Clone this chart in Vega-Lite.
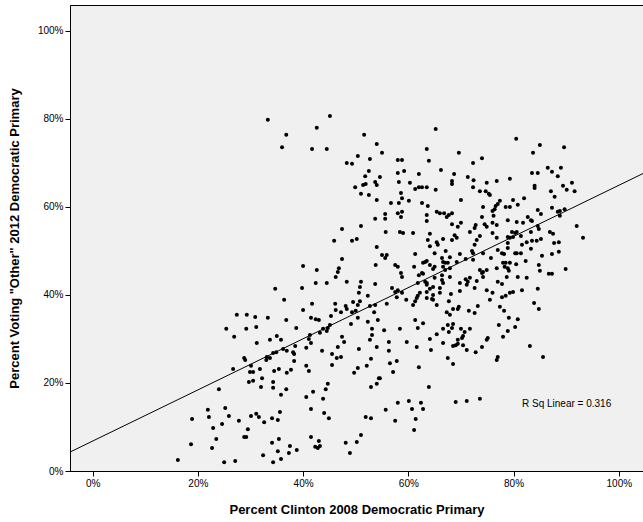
{
  "$schema": "https://vega.github.io/schema/vega-lite/v6.json",
  "width": 573,
  "height": 466,
  "autosize": "none",
  "padding": {"left": 70, "top": 5, "right": 0, "bottom": 51},
  "background": "#ffffff",
  "config": {
    "view": {"fill": "#f0f0f0", "stroke": "#000000", "strokeWidth": 1},
    "font": "Liberation Sans",
    "axis": {"grid": false, "domainColor": "#000000", "tickColor": "#000000", "labelColor": "#000000", "titleColor": "#000000", "labelFontSize": 10, "titleFontSize": 13, "titleFontWeight": "bold", "labelFont": "Liberation Sans", "titleFont": "Liberation Sans", "tickSize": 5}
  },
  "datasets": {
    "points": [
      {"clinton":33.3,"other":79.8},{"clinton":45.1,"other":80.7},{"clinton":42.6,"other":78.0},{"clinton":36.8,"other":76.4},{"clinton":51.6,"other":76.4},{"clinton":36.0,"other":73.6},{"clinton":41.7,"other":73.2},{"clinton":44.5,"other":73.2},{"clinton":54.0,"other":74.3},{"clinton":50.4,"other":71.6},{"clinton":52.7,"other":70.9},{"clinton":48.3,"other":70.0},{"clinton":49.3,"other":69.8},{"clinton":52.5,"other":68.2},{"clinton":51.8,"other":67.0},{"clinton":54.6,"other":66.8},{"clinton":49.9,"other":64.5},{"clinton":51.4,"other":65.0},{"clinton":51.9,"other":65.2},{"clinton":53.7,"other":65.7},{"clinton":54.0,"other":65.0},{"clinton":51.0,"other":63.0},{"clinton":52.5,"other":62.7},{"clinton":54.0,"other":61.6},{"clinton":53.7,"other":57.3},{"clinton":51.0,"other":55.7},{"clinton":47.4,"other":55.0},
      {"clinton":65.2,"other":77.7},{"clinton":55.0,"other":72.3},{"clinton":63.5,"other":73.2},{"clinton":69.6,"other":72.3},{"clinton":63.9,"other":70.5},{"clinton":58.0,"other":70.7},{"clinton":58.8,"other":70.7},{"clinton":74.0,"other":71.1},{"clinton":72.3,"other":70.0},{"clinton":66.2,"other":68.4},{"clinton":59.2,"other":68.2},{"clinton":58.0,"other":67.7},{"clinton":62.0,"other":67.5},{"clinton":68.7,"other":67.5},{"clinton":71.3,"other":66.8},{"clinton":72.4,"other":66.1},{"clinton":68.3,"other":65.9},{"clinton":68.3,"other":65.2},{"clinton":74.9,"other":65.5},{"clinton":58.2,"other":65.7},{"clinton":60.3,"other":65.5},{"clinton":61.3,"other":64.1},{"clinton":62.0,"other":64.5},{"clinton":62.6,"other":64.5},{"clinton":63.5,"other":64.5},{"clinton":65.2,"other":63.9},{"clinton":72.3,"other":64.5},{"clinton":73.6,"other":63.6},{"clinton":74.7,"other":63.6},{"clinton":75.3,"other":63.0},{"clinton":58.6,"other":63.2},{"clinton":58.8,"other":62.0},{"clinton":70.0,"other":61.6},{"clinton":56.7,"other":60.9},{"clinton":58.2,"other":60.9},{"clinton":60.1,"other":61.4},{"clinton":62.6,"other":60.9},{"clinton":63.7,"other":60.2},{"clinton":74.2,"other":60.0},{"clinton":55.6,"other":58.4},{"clinton":58.0,"other":58.6},{"clinton":58.8,"other":58.9},{"clinton":65.4,"other":58.9},{"clinton":66.0,"other":58.6},{"clinton":66.8,"other":58.6},{"clinton":67.3,"other":57.7},{"clinton":67.7,"other":58.2},{"clinton":68.3,"other":58.6},{"clinton":63.5,"other":58.2},{"clinton":58.6,"other":57.7},{"clinton":55.6,"other":57.3},{"clinton":63.5,"other":56.8},{"clinton":68.3,"other":56.1},{"clinton":70.0,"other":56.4},{"clinton":69.4,"other":55.5},{"clinton":72.8,"other":55.9},{"clinton":72.6,"other":55.2},{"clinton":74.0,"other":57.7},{"clinton":74.5,"other":56.1},{"clinton":74.9,"other":55.5},
      {"clinton":80.5,"other":75.5},{"clinton":85.0,"other":74.1},{"clinton":89.6,"other":73.6},{"clinton":83.7,"other":72.3},{"clinton":86.5,"other":68.9},{"clinton":87.3,"other":68.0},{"clinton":89.0,"other":68.9},{"clinton":83.5,"other":67.7},{"clinton":84.6,"other":67.7},{"clinton":88.4,"other":67.0},{"clinton":79.3,"other":66.4},{"clinton":76.8,"other":65.9},{"clinton":84.0,"other":64.8},{"clinton":84.0,"other":64.3},{"clinton":89.4,"other":64.8},{"clinton":90.1,"other":63.9},{"clinton":91.1,"other":65.5},{"clinton":91.6,"other":63.6},{"clinton":87.1,"other":63.6},{"clinton":87.8,"other":62.3},{"clinton":75.5,"other":62.7},{"clinton":82.0,"other":62.0},{"clinton":79.9,"other":61.6},{"clinton":77.4,"other":61.4},{"clinton":77.0,"other":60.7},{"clinton":76.6,"other":60.2},{"clinton":76.4,"other":59.5},{"clinton":80.8,"other":60.5},{"clinton":78.5,"other":60.0},{"clinton":79.3,"other":60.0},{"clinton":76.0,"other":59.1},{"clinton":76.2,"other":58.0},{"clinton":84.6,"other":59.3},{"clinton":85.2,"other":58.4},{"clinton":87.3,"other":59.8},{"clinton":88.4,"other":58.9},{"clinton":88.8,"other":59.1},{"clinton":89.7,"other":59.5},{"clinton":88.8,"other":58.0},{"clinton":78.9,"other":57.0},{"clinton":80.6,"other":56.6},{"clinton":81.8,"other":56.4},{"clinton":82.7,"other":57.7},{"clinton":83.3,"other":57.0},{"clinton":83.5,"other":56.8},{"clinton":76.0,"other":56.4},{"clinton":76.8,"other":55.9},{"clinton":84.6,"other":55.7},{"clinton":84.8,"other":55.0},{"clinton":92.0,"other":55.7},
      {"clinton":27.4,"other":35.5},{"clinton":29.3,"other":35.5},{"clinton":30.9,"other":35.0},{"clinton":33.3,"other":34.8},{"clinton":25.4,"other":32.3},{"clinton":29.2,"other":32.3},{"clinton":31.1,"other":32.7},{"clinton":26.9,"other":30.5},{"clinton":31.2,"other":29.1},{"clinton":33.7,"other":29.8},
      {"clinton":45.9,"other":52.3},{"clinton":49.3,"other":52.3},{"clinton":50.2,"other":52.7},{"clinton":54.0,"other":50.9},{"clinton":47.4,"other":48.2},{"clinton":40.0,"other":46.6},{"clinton":42.6,"other":45.7},{"clinton":46.8,"other":46.1},{"clinton":46.6,"other":45.2},{"clinton":46.2,"other":44.1},{"clinton":53.8,"other":46.8},{"clinton":42.4,"other":42.7},{"clinton":44.5,"other":42.7},{"clinton":48.3,"other":43.0},{"clinton":51.0,"other":43.0},{"clinton":50.8,"other":41.8},{"clinton":50.6,"other":40.5},{"clinton":53.7,"other":42.5},{"clinton":34.7,"other":41.4},{"clinton":39.8,"other":41.6},{"clinton":36.4,"other":38.9},{"clinton":41.7,"other":38.0},{"clinton":46.1,"other":38.0},{"clinton":46.2,"other":36.6},{"clinton":47.2,"other":36.1},{"clinton":48.3,"other":36.8},{"clinton":48.1,"other":37.5},{"clinton":49.5,"other":38.4},{"clinton":50.4,"other":37.7},{"clinton":50.8,"other":38.6},{"clinton":49.3,"other":36.1},{"clinton":50.0,"other":36.4},{"clinton":52.3,"other":39.8},{"clinton":52.7,"other":37.5},{"clinton":53.7,"other":37.7},{"clinton":40.0,"other":36.6},{"clinton":53.5,"other":36.1},{"clinton":41.5,"other":34.8},{"clinton":42.4,"other":34.5},{"clinton":43.0,"other":34.3},{"clinton":45.3,"other":35.2},{"clinton":50.4,"other":34.8},{"clinton":36.8,"other":34.3},{"clinton":49.1,"other":33.4},{"clinton":52.3,"other":33.9},{"clinton":54.2,"other":34.3},{"clinton":38.7,"other":32.5},{"clinton":45.1,"other":33.2},{"clinton":44.7,"other":32.5},{"clinton":44.5,"other":31.8},{"clinton":43.8,"other":32.3},{"clinton":53.1,"other":32.3},{"clinton":53.1,"other":30.9},{"clinton":43.2,"other":31.4},{"clinton":41.3,"other":30.9},{"clinton":41.1,"other":30.0},{"clinton":41.5,"other":29.1},{"clinton":35.0,"other":30.7},{"clinton":35.8,"other":29.8},{"clinton":47.4,"other":30.5},{"clinton":47.8,"other":29.3},{"clinton":52.7,"other":29.8},{"clinton":38.5,"other":28.4},{"clinton":40.6,"other":28.0},{"clinton":46.6,"other":28.2},{"clinton":54.0,"other":28.2},{"clinton":36.2,"other":27.7},{"clinton":36.9,"other":27.3},{"clinton":38.1,"other":27.0},{"clinton":38.3,"other":26.6},{"clinton":34.9,"other":27.0},{"clinton":34.3,"other":26.8},{"clinton":43.6,"other":27.3},{"clinton":50.6,"other":27.7},{"clinton":45.5,"other":26.6},
      {"clinton":55.7,"other":54.3},{"clinton":58.4,"other":54.3},{"clinton":59.0,"other":54.1},{"clinton":60.9,"other":54.1},{"clinton":64.1,"other":53.9},{"clinton":68.8,"other":53.6},{"clinton":69.2,"other":53.0},{"clinton":71.7,"other":54.3},{"clinton":73.6,"other":53.4},{"clinton":63.7,"other":52.5},{"clinton":65.4,"other":52.0},{"clinton":65.6,"other":51.4},{"clinton":66.6,"other":52.7},{"clinton":68.3,"other":52.5},{"clinton":73.0,"other":52.5},{"clinton":72.6,"other":51.4},{"clinton":64.1,"other":51.1},{"clinton":72.1,"other":50.0},{"clinton":72.3,"other":49.5},{"clinton":67.1,"other":50.0},{"clinton":61.3,"other":49.3},{"clinton":65.0,"other":49.5},{"clinton":69.8,"other":49.3},{"clinton":74.2,"other":49.5},{"clinton":55.0,"other":49.1},{"clinton":55.6,"other":48.4},{"clinton":55.9,"other":49.1},{"clinton":66.4,"other":48.4},{"clinton":66.6,"other":47.5},{"clinton":67.0,"other":47.3},{"clinton":67.9,"other":48.6},{"clinton":69.2,"other":47.5},{"clinton":70.9,"other":48.2},{"clinton":72.3,"other":48.0},{"clinton":63.2,"other":47.5},{"clinton":63.5,"other":47.7},{"clinton":62.8,"other":47.3},{"clinton":64.1,"other":46.8},{"clinton":57.5,"other":46.8},{"clinton":58.0,"other":46.4},{"clinton":61.1,"other":46.4},{"clinton":65.0,"other":46.4},{"clinton":64.7,"other":45.9},{"clinton":66.6,"other":46.4},{"clinton":67.0,"other":45.7},{"clinton":67.5,"other":47.3},{"clinton":67.9,"other":46.1},{"clinton":73.6,"other":45.7},{"clinton":74.2,"other":45.2},{"clinton":74.9,"other":45.7},{"clinton":62.6,"other":45.0},{"clinton":62.0,"other":44.5},{"clinton":62.8,"other":44.8},{"clinton":58.6,"other":45.0},{"clinton":58.8,"other":44.1},{"clinton":63.5,"other":42.7},{"clinton":63.2,"other":43.0},{"clinton":65.0,"other":43.9},{"clinton":66.4,"other":44.5},{"clinton":66.4,"other":43.4},{"clinton":66.6,"other":42.7},{"clinton":67.9,"other":44.1},{"clinton":69.8,"other":42.7},{"clinton":70.9,"other":43.6},{"clinton":71.3,"other":43.0},{"clinton":71.1,"other":42.3},{"clinton":71.7,"other":43.9},{"clinton":73.0,"other":43.2},{"clinton":74.0,"other":45.0},{"clinton":74.2,"other":44.1},{"clinton":64.7,"other":41.8},{"clinton":61.8,"other":42.7},{"clinton":63.5,"other":42.3},{"clinton":66.0,"other":41.6},{"clinton":63.5,"other":40.7},{"clinton":64.1,"other":41.4},{"clinton":62.2,"other":40.5},{"clinton":61.8,"other":39.8},{"clinton":61.6,"other":39.3},{"clinton":56.9,"other":41.6},{"clinton":57.5,"other":40.7},{"clinton":58.0,"other":41.1},{"clinton":58.8,"other":40.5},{"clinton":57.8,"other":39.5},{"clinton":64.7,"other":40.0},{"clinton":66.0,"other":40.5},{"clinton":68.1,"other":40.2},{"clinton":69.8,"other":40.9},{"clinton":72.6,"other":41.6},{"clinton":74.9,"other":41.1},{"clinton":59.6,"other":38.9},{"clinton":61.3,"other":38.6},{"clinton":60.9,"other":37.7},{"clinton":63.5,"other":39.3},{"clinton":64.5,"other":39.1},{"clinton":64.7,"other":38.9},{"clinton":55.9,"other":38.0},{"clinton":65.4,"other":37.7},{"clinton":67.7,"other":38.6},{"clinton":69.6,"other":37.3},{"clinton":69.4,"other":36.8},{"clinton":68.5,"other":36.8},{"clinton":67.3,"other":36.1},{"clinton":67.9,"other":35.5},{"clinton":71.5,"other":36.4},{"clinton":72.6,"other":35.9},{"clinton":73.2,"other":37.5},{"clinton":61.3,"other":34.3},{"clinton":62.8,"other":33.6},{"clinton":61.8,"other":32.5},{"clinton":67.5,"other":33.2},{"clinton":68.5,"other":33.4},{"clinton":68.3,"other":32.5},{"clinton":66.6,"other":32.3},{"clinton":70.0,"other":32.3},{"clinton":70.7,"other":31.6},{"clinton":70.4,"other":30.7},{"clinton":71.7,"other":32.3},{"clinton":55.4,"other":32.0},{"clinton":58.4,"other":32.3},{"clinton":65.4,"other":31.1},{"clinton":67.7,"other":31.6},{"clinton":69.4,"other":29.8},{"clinton":70.2,"other":30.2},{"clinton":64.1,"other":30.0},{"clinton":56.3,"other":29.3},{"clinton":59.7,"other":29.3},{"clinton":66.6,"other":29.1},{"clinton":74.9,"other":29.8},{"clinton":75.1,"other":30.2},{"clinton":68.5,"other":28.4},{"clinton":69.0,"other":28.6},{"clinton":69.4,"other":28.9},{"clinton":70.4,"other":28.6},{"clinton":61.6,"other":28.2},{"clinton":74.0,"other":28.2},{"clinton":56.3,"other":27.3},{"clinton":64.3,"other":27.5},{"clinton":71.1,"other":27.5},{"clinton":72.8,"other":27.0},
      {"clinton":76.0,"other":54.1},{"clinton":79.7,"other":54.3},{"clinton":80.3,"other":54.1},{"clinton":80.6,"other":54.3},{"clinton":83.3,"other":54.3},{"clinton":86.9,"other":54.3},{"clinton":87.5,"other":53.9},{"clinton":76.8,"other":53.0},{"clinton":78.9,"other":53.2},{"clinton":79.3,"other":53.0},{"clinton":79.9,"other":53.2},{"clinton":81.4,"other":53.4},{"clinton":93.2,"other":53.0},{"clinton":78.9,"other":51.8},{"clinton":81.6,"other":51.4},{"clinton":82.5,"other":52.0},{"clinton":83.5,"other":52.3},{"clinton":84.4,"other":52.3},{"clinton":85.2,"other":52.7},{"clinton":87.7,"other":51.8},{"clinton":88.6,"other":52.0},{"clinton":78.9,"other":50.7},{"clinton":83.3,"other":50.5},{"clinton":77.0,"other":50.2},{"clinton":77.8,"other":49.5},{"clinton":78.2,"other":49.3},{"clinton":80.3,"other":49.5},{"clinton":80.6,"other":49.5},{"clinton":81.4,"other":49.5},{"clinton":85.4,"other":48.9},{"clinton":87.3,"other":49.3},{"clinton":88.6,"other":49.8},{"clinton":75.7,"other":48.4},{"clinton":82.3,"other":47.7},{"clinton":78.0,"other":47.3},{"clinton":78.5,"other":47.3},{"clinton":79.3,"other":47.3},{"clinton":78.3,"other":46.4},{"clinton":78.9,"other":46.1},{"clinton":80.5,"other":47.0},{"clinton":84.8,"other":46.8},{"clinton":85.0,"other":45.5},{"clinton":76.8,"other":46.1},{"clinton":79.1,"other":45.5},{"clinton":86.7,"other":44.8},{"clinton":87.3,"other":44.8},{"clinton":89.9,"other":45.9},{"clinton":78.7,"other":44.1},{"clinton":80.8,"other":44.1},{"clinton":82.5,"other":43.9},{"clinton":77.0,"other":43.0},{"clinton":77.8,"other":42.5},{"clinton":84.6,"other":41.4},{"clinton":81.6,"other":41.1},{"clinton":79.3,"other":40.5},{"clinton":79.9,"other":40.7},{"clinton":76.0,"other":40.5},{"clinton":77.8,"other":39.5},{"clinton":78.5,"other":39.8},{"clinton":75.5,"other":38.9},{"clinton":83.9,"other":38.2},{"clinton":84.8,"other":36.8},{"clinton":77.4,"other":37.3},{"clinton":78.2,"other":36.4},{"clinton":79.1,"other":34.8},{"clinton":80.8,"other":34.5},{"clinton":77.2,"other":33.2},{"clinton":80.3,"other":32.7},{"clinton":78.9,"other":31.8},{"clinton":78.0,"other":30.5},{"clinton":83.1,"other":28.4},
      {"clinton":28.8,"other":25.7},{"clinton":29.0,"other":25.2},{"clinton":33.1,"other":25.9},{"clinton":33.7,"other":25.7},{"clinton":33.0,"other":25.2},{"clinton":26.7,"other":23.2},{"clinton":30.1,"other":23.9},{"clinton":29.9,"other":22.5},{"clinton":30.5,"other":22.5},{"clinton":31.8,"other":23.2},{"clinton":32.2,"other":21.1},{"clinton":29.7,"other":20.2},{"clinton":30.5,"other":20.5},{"clinton":32.0,"other":19.1},{"clinton":24.0,"other":18.6},{"clinton":21.9,"other":13.9},{"clinton":22.1,"other":12.3},{"clinton":25.2,"other":14.3},{"clinton":25.9,"other":12.5},{"clinton":18.9,"other":11.8},{"clinton":30.1,"other":12.5},{"clinton":31.1,"other":13.0},{"clinton":31.6,"other":12.3},{"clinton":32.6,"other":11.1},{"clinton":27.8,"other":11.4},{"clinton":24.6,"other":10.7},{"clinton":22.9,"other":9.8},{"clinton":29.5,"other":9.5},{"clinton":23.5,"other":7.3},{"clinton":28.8,"other":7.7},{"clinton":29.2,"other":7.7},{"clinton":18.7,"other":6.1},{"clinton":22.7,"other":5.2},{"clinton":32.4,"other":3.6},{"clinton":16.2,"other":2.5},{"clinton":25.0,"other":2.0},{"clinton":27.1,"other":2.3},
      {"clinton":38.3,"other":25.0},{"clinton":34.5,"other":22.7},{"clinton":35.4,"other":23.2},{"clinton":36.9,"other":22.3},{"clinton":37.7,"other":23.0},{"clinton":40.6,"other":23.9},{"clinton":41.1,"other":22.7},{"clinton":45.5,"other":24.1},{"clinton":46.4,"other":25.7},{"clinton":47.2,"other":25.9},{"clinton":52.9,"other":25.5},{"clinton":52.1,"other":23.9},{"clinton":50.4,"other":23.4},{"clinton":49.7,"other":22.3},{"clinton":34.3,"other":20.2},{"clinton":34.3,"other":18.9},{"clinton":36.8,"other":18.6},{"clinton":35.8,"other":17.3},{"clinton":44.7,"other":19.8},{"clinton":44.3,"other":18.6},{"clinton":41.9,"other":18.0},{"clinton":40.6,"other":16.8},{"clinton":43.8,"other":16.4},{"clinton":52.9,"other":19.1},{"clinton":54.0,"other":19.8},{"clinton":54.4,"other":21.1},{"clinton":41.5,"other":14.1},{"clinton":44.0,"other":13.2},{"clinton":44.9,"other":12.0},{"clinton":35.6,"other":13.4},{"clinton":34.1,"other":12.0},{"clinton":35.2,"other":11.6},{"clinton":51.9,"other":12.3},{"clinton":52.9,"other":12.0},{"clinton":41.5,"other":7.7},{"clinton":35.4,"other":7.3},{"clinton":34.1,"other":6.4},{"clinton":43.0,"other":6.8},{"clinton":42.3,"other":5.5},{"clinton":42.8,"other":5.2},{"clinton":43.2,"other":5.7},{"clinton":37.5,"other":5.7},{"clinton":38.8,"other":4.8},{"clinton":37.3,"other":4.1},{"clinton":35.2,"other":4.5},{"clinton":48.1,"other":6.4},{"clinton":50.2,"other":6.6},{"clinton":51.0,"other":8.2},{"clinton":48.9,"other":4.1},{"clinton":35.8,"other":2.7},{"clinton":34.3,"other":2.0},
      {"clinton":54.6,"other":21.1},{"clinton":56.5,"other":24.5},{"clinton":57.8,"other":25.0},{"clinton":57.1,"other":22.5},{"clinton":62.0,"other":23.6},{"clinton":67.5,"other":25.7},{"clinton":68.5,"other":24.3},{"clinton":63.9,"other":19.1},{"clinton":55.7,"other":13.9},{"clinton":58.0,"other":15.5},{"clinton":60.1,"other":15.9},{"clinton":62.4,"other":15.5},{"clinton":60.7,"other":14.1},{"clinton":62.8,"other":14.1},{"clinton":61.4,"other":11.8},{"clinton":57.5,"other":11.4},{"clinton":61.1,"other":9.3},{"clinton":69.0,"other":15.7},{"clinton":71.1,"other":15.9},{"clinton":73.6,"other":16.4},
      {"clinton":77.0,"other":25.9},{"clinton":76.8,"other":25.2},{"clinton":85.6,"other":25.9}
    ],
    "fit": [{"clinton": -4.3, "other": 4.3}, {"clinton": 104.6, "other": 67.6}],
    "note": [{"clinton": 81.6, "other": 15.2, "label": "R Sq Linear = 0.316"}]
  },
  "layer": [
    {
      "data": {"name": "points"},
      "mark": {"type": "circle", "size": 16, "color": "#000000", "opacity": 1},
      "encoding": {
        "x": {"field": "clinton", "type": "quantitative", "scale": {"domain": [-4.3, 104.6], "nice": false, "zero": false}, "axis": {"values": [0, 20, 40, 60, 80, 100], "labelExpr": "datum.value + '%'", "title": "Percent Clinton 2008 Democratic Primary", "titlePadding": 15}},
        "y": {"field": "other", "type": "quantitative", "scale": {"domain": [0, 105.9], "nice": false, "zero": false}, "axis": {"values": [0, 20, 40, 60, 80, 100], "labelExpr": "datum.value + '%'", "title": "Percent Voting \"Other\" 2012 Democratic Primary", "titlePadding": 16}}
      }
    },
    {
      "data": {"name": "fit"},
      "mark": {"type": "line", "color": "#000000", "strokeWidth": 1, "clip": true},
      "encoding": {
        "x": {"field": "clinton", "type": "quantitative"},
        "y": {"field": "other", "type": "quantitative"}
      }
    },
    {
      "data": {"name": "note"},
      "mark": {"type": "text", "align": "left", "baseline": "middle", "fontSize": 10, "color": "#000000", "font": "Liberation Sans"},
      "encoding": {
        "x": {"field": "clinton", "type": "quantitative"},
        "y": {"field": "other", "type": "quantitative"},
        "text": {"field": "label"}
      }
    }
  ]
}
